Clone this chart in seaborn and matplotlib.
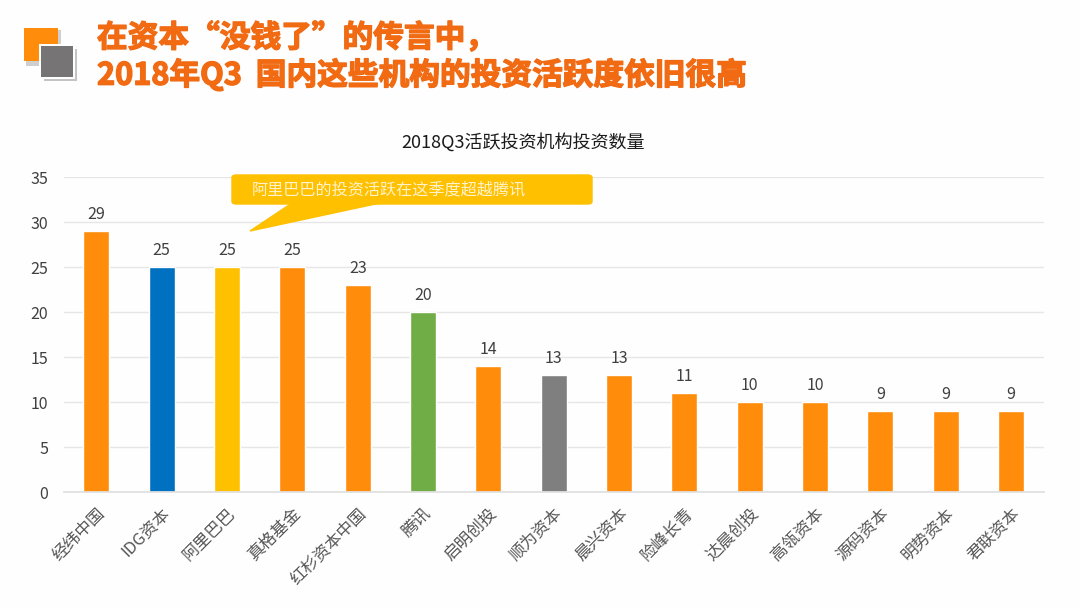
import matplotlib
matplotlib.use("Agg")
import matplotlib.pyplot as plt
import matplotlib.patheffects as pe
from matplotlib.patches import FancyBboxPatch, Polygon, Rectangle
import pandas as pd
import seaborn as sns

investors = ["经纬中国", "IDG资本", "阿里巴巴", "真格基金", "红杉资本中国", "腾讯", "启明创投", "顺为资本",
             "晨兴资本", "险峰长青", "达晨创投", "高瓴资本", "源码资本", "明势资本", "君联资本"]
deals = [29, 25, 25, 25, 23, 20, 14, 13, 13, 11, 10, 10, 9, 9, 9]
bar_colors = ["#FF8C0A", "#0070C0", "#FFC000", "#FF8C0A", "#FF8C0A", "#70AD47", "#FF8C0A", "#7F7F7F",
              "#FF8C0A", "#FF8C0A", "#FF8C0A", "#FF8C0A", "#FF8C0A", "#FF8C0A", "#FF8C0A"]
y_ticks = [0, 5, 10, 15, 20, 25, 30, 35]

chart_title = "2018Q3活跃投资机构投资数量"
head_1 = "在资本“没钱了”的传言中，"
head_2 = "2018年Q3  国内这些机构的投资活跃度依旧很高"
callout = "阿里巴巴的投资活跃在这季度超越腾讯"

W, H = 1080, 608
text_color = "#404040"

sns.set_theme(style="white")
plt.rcParams['font.family'] = ['Noto Sans CJK SC', 'DejaVu Sans']

fig = plt.figure(figsize=(W / 100, H / 100), dpi=100, facecolor="#FEFEFE")
ax = fig.add_axes([63.7 / W, 1 - 492.3 / H, 980 / W, 315 / H])
ax.set_facecolor("none")

df = pd.DataFrame({"investor": investors, "deals": deals})
sns.barplot(data=df, x="investor", y="deals", hue="investor", palette=bar_colors,
            width=0.4, legend=False, ax=ax, saturation=1)

ax.set_ylim(0, 35)
ax.set_xlim(-0.5, 14.5)
ax.set_yticks(y_ticks)
ax.set(xlabel=None, ylabel=None)
ax.grid(axis="y", color="#E6E6E6", linewidth=1)
ax.set_axisbelow(True)
sns.despine(ax=ax, left=True, top=True, right=True)
ax.spines["bottom"].set_color("#E0E0E0")
ax.tick_params(axis="y", length=0, labelsize=11.5, labelcolor=text_color, pad=11)
ax.tick_params(axis="x", length=0, labelsize=12, labelcolor="#555555", pad=9)
for lab in ax.get_xticklabels():
    lab.set_rotation(45)
    lab.set_ha("right")
    lab.set_rotation_mode("anchor")

for c in ax.containers:
    ax.bar_label(c, padding=6, fontsize=11.5, color=text_color)


def px(x, y):
    return x / W, 1 - y / H


def box(left, top, right, bottom, color, z):
    fig.add_artist(Rectangle(px(left, bottom), (right - left) / W, (bottom - top) / H,
                             transform=fig.transFigure, color=color, zorder=z, linewidth=0))


# logo squares
box(26, 30, 61, 66, "#CFCFCF", 2)
box(24, 28, 58, 61, "#FF8C0A", 3)
box(44, 49, 77, 81, "#C4C4C4", 4)
box(39, 44, 75, 79, "#FFFFFF", 5)
box(41, 46, 73, 77, "#767474", 6)

# heading
stroke = [pe.withStroke(linewidth=1.0, foreground="#EE6A14")]
for txt, y in [(head_1, 38), (head_2, 75)]:
    x0, y0 = px(97, y)
    fig.text(x0, y0, txt, fontsize=22.1, fontweight="bold", color="#F26B12", va="center", ha="left",
             path_effects=stroke)

# chart title
x0, y0 = px(523, 142)
fig.text(x0, y0, chart_title, fontsize=13, color="#1A1A1A", ha="center", va="center")

# callout
x0, y0 = px(232, 204)
fig.add_artist(FancyBboxPatch((x0, y0), 360 / W, 29 / H, transform=fig.transFigure,
                              boxstyle="round,pad=0,rounding_size=0.004", color="#FFC000", zorder=5))
fig.add_artist(Polygon([px(292, 203), px(380, 203), px(250, 231)], closed=True,
                       transform=fig.transFigure, color="#FFC000", zorder=5))
x0, y0 = px(389, 190)
fig.text(x0, y0, callout, fontsize=11.6, color="#FFF3CC", ha="center", va="center", zorder=6)

fig.savefig("out.png", dpi=100, facecolor=fig.get_facecolor())
